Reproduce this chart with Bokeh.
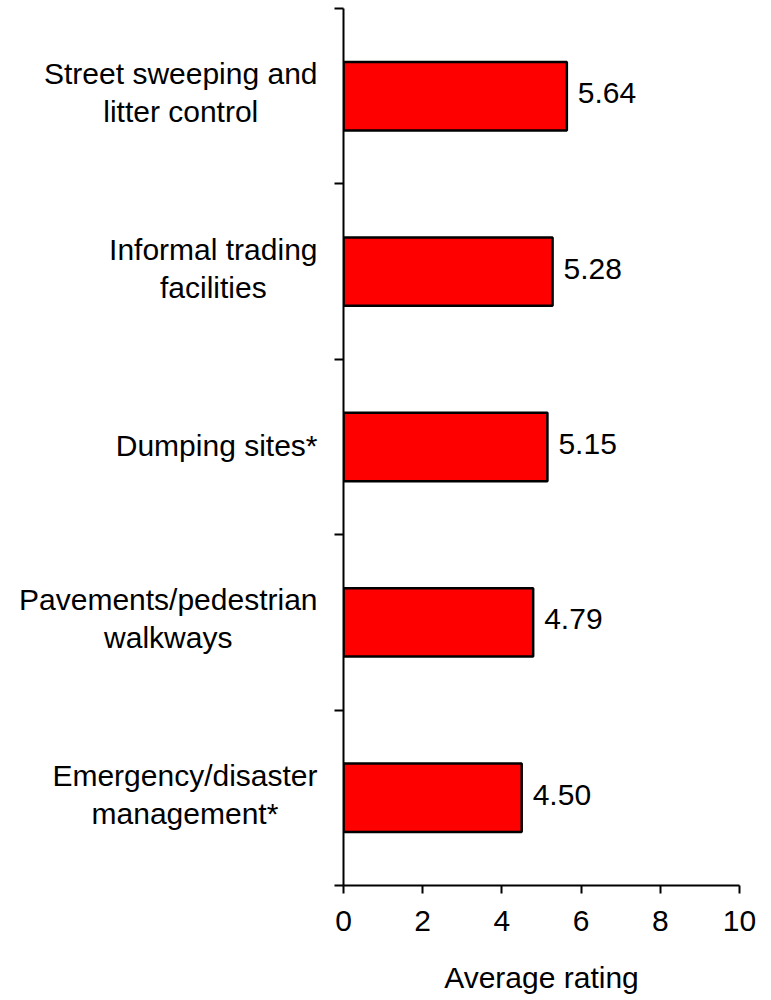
from bokeh.plotting import figure
from bokeh.models import ColumnDataSource, Range1d, FixedTicker, LabelSet
from bokeh.layouts import row
from bokeh.core.properties import value
from bokeh.embed import file_html
from bokeh.resources import INLINE

# ---- data (top to bottom as in the chart) ----
categories = [
    "Street sweeping and litter control",
    "Informal trading facilities",
    "Dumping sites*",
    "Pavements/pedestrian walkways",
    "Emergency/disaster management*",
]
label_lines = [
    ["Street sweeping and", "litter control"],
    ["Informal trading", "facilities"],
    ["Dumping sites*"],
    ["Pavements/pedestrian", "walkways"],
    ["Emergency/disaster", "management*"],
]
ratings = [5.64, 5.28, 5.15, 4.79, 4.50]
x_ticks = [0, 2, 4, 6, 8, 10]
x_label = "Average rating"

FONT = "Liberation Sans"
FS = 30
FSPX = f"{FS}px"

# approximate Arial/Liberation Sans advance widths (em/1000) for centring label lines
ADV = {' ': 278, 'S': 667, 't': 278, 'r': 333, 'e': 556, 's': 500, 'w': 722, 'p': 556,
       'i': 222, 'n': 556, 'g': 556, 'a': 556, 'd': 556, 'l': 222, 'c': 500, 'o': 556,
       'I': 278, 'f': 278, 'm': 833, 'D': 722, 'u': 556, '*': 389, 'P': 667, 'v': 500,
       '/': 278, 'y': 500, 'E': 667, 'k': 500}


def text_width(s):
    return sum(ADV.get(ch, 556) for ch in s) / 1000.0 * FS


H = 1000
TOP, BOTTOM = 8, 115
LEFT_W = 334          # width of the label panel
TICK_PAD = 9          # room for the y ticks in the main plot
RIGHT_EDGE = 317      # right edge of the label blocks inside the label panel

n = len(categories)
# category slot centres on a 0..n band axis (first category at top)
centres = [n - i - 0.5 for i in range(n)]

p = figure(width=760 - LEFT_W, height=H, y_range=Range1d(0, n),
           x_range=Range1d(0, 10), output_backend="svg", toolbar_location=None,
           min_border_left=TICK_PAD, min_border_right=21, min_border_top=TOP,
           min_border_bottom=BOTTOM, background_fill_color="white",
           border_fill_color="white")
p.outline_line_color = None
p.xgrid.visible = False
p.ygrid.visible = False

src = ColumnDataSource(dict(cat=categories, yc=centres, val=ratings,
                            txt=[f"{v:.2f}" for v in ratings]))
p.hbar(y="yc", right="val", left=0, height=0.39, source=src,
       fill_color="#FF0000", line_color="black", line_width=2.5)

# value labels
p.add_layout(LabelSet(x="val", y="yc", text="txt", source=src, x_offset=11,
                      y_offset=-7, text_baseline="alphabetic", text_align="left",
                      text_font=value(FONT), text_font_size=value(FSPX),
                      text_color="black"))

# y axis with ticks on the category boundaries, no tick labels
ya = p.yaxis[0]
ya.ticker = FixedTicker(ticks=list(range(n + 1)))
ya.major_label_overrides = {i: "" for i in range(n + 1)}
ya.major_label_text_font_size = "1px"
ya.major_label_standoff = 0
ya.axis_line_color = "black"
ya.axis_line_width = 2
ya.major_tick_line_color = "black"
ya.major_tick_line_width = 2
ya.major_tick_out = 9
ya.major_tick_in = 0
ya.minor_tick_line_color = None

xa = p.xaxis[0]
xa.ticker = FixedTicker(ticks=x_ticks)
xa.axis_line_color = "black"
xa.axis_line_width = 2
xa.major_tick_line_color = "black"
xa.major_tick_line_width = 2
xa.major_tick_out = 8
xa.major_tick_in = 0
xa.minor_tick_line_color = None
xa.major_label_text_font = FONT
xa.major_label_text_font_size = FSPX
xa.major_label_text_color = "black"
xa.major_label_standoff = 17
xa.axis_label = x_label
xa.axis_label_text_font = FONT
xa.axis_label_text_font_size = FSPX
xa.axis_label_text_font_style = "normal"
xa.axis_label_text_color = "black"
xa.axis_label_standoff = 27

# ---- category label panel sharing the y range ----
lab = figure(width=LEFT_W, height=H, y_range=p.y_range,
             x_range=Range1d(0, LEFT_W), output_backend="svg",
             toolbar_location=None, min_border_left=0, min_border_right=0,
             min_border_top=TOP, min_border_bottom=BOTTOM,
             background_fill_color="white", border_fill_color="white")
lab.outline_line_color = None
lab.axis.visible = False
lab.grid.visible = False

l_x, l_y, l_txt, l_yo = [], [], [], []
for yc, lines in zip(centres, label_lines):
    blockw = max(text_width(s) for s in lines)
    offs = [-1.5] if len(lines) == 1 else [-22.5, 15.5]
    for s, yo in zip(lines, offs):
        l_x.append(RIGHT_EDGE - blockw / 2.0)
        l_y.append(yc)
        l_txt.append(s)
        l_yo.append(yo)
lsrc = ColumnDataSource(dict(x=l_x, y=l_y, txt=l_txt, yo=l_yo))
lab.text(x="x", y="y", text="txt", y_offset="yo", source=lsrc,
         text_align="center", text_baseline="alphabetic",
         text_font=value(FONT), text_font_size=value(FSPX), text_color="black")

layout = row(lab, p, spacing=0)
open("out.html", "w").write(file_html(layout, INLINE))
